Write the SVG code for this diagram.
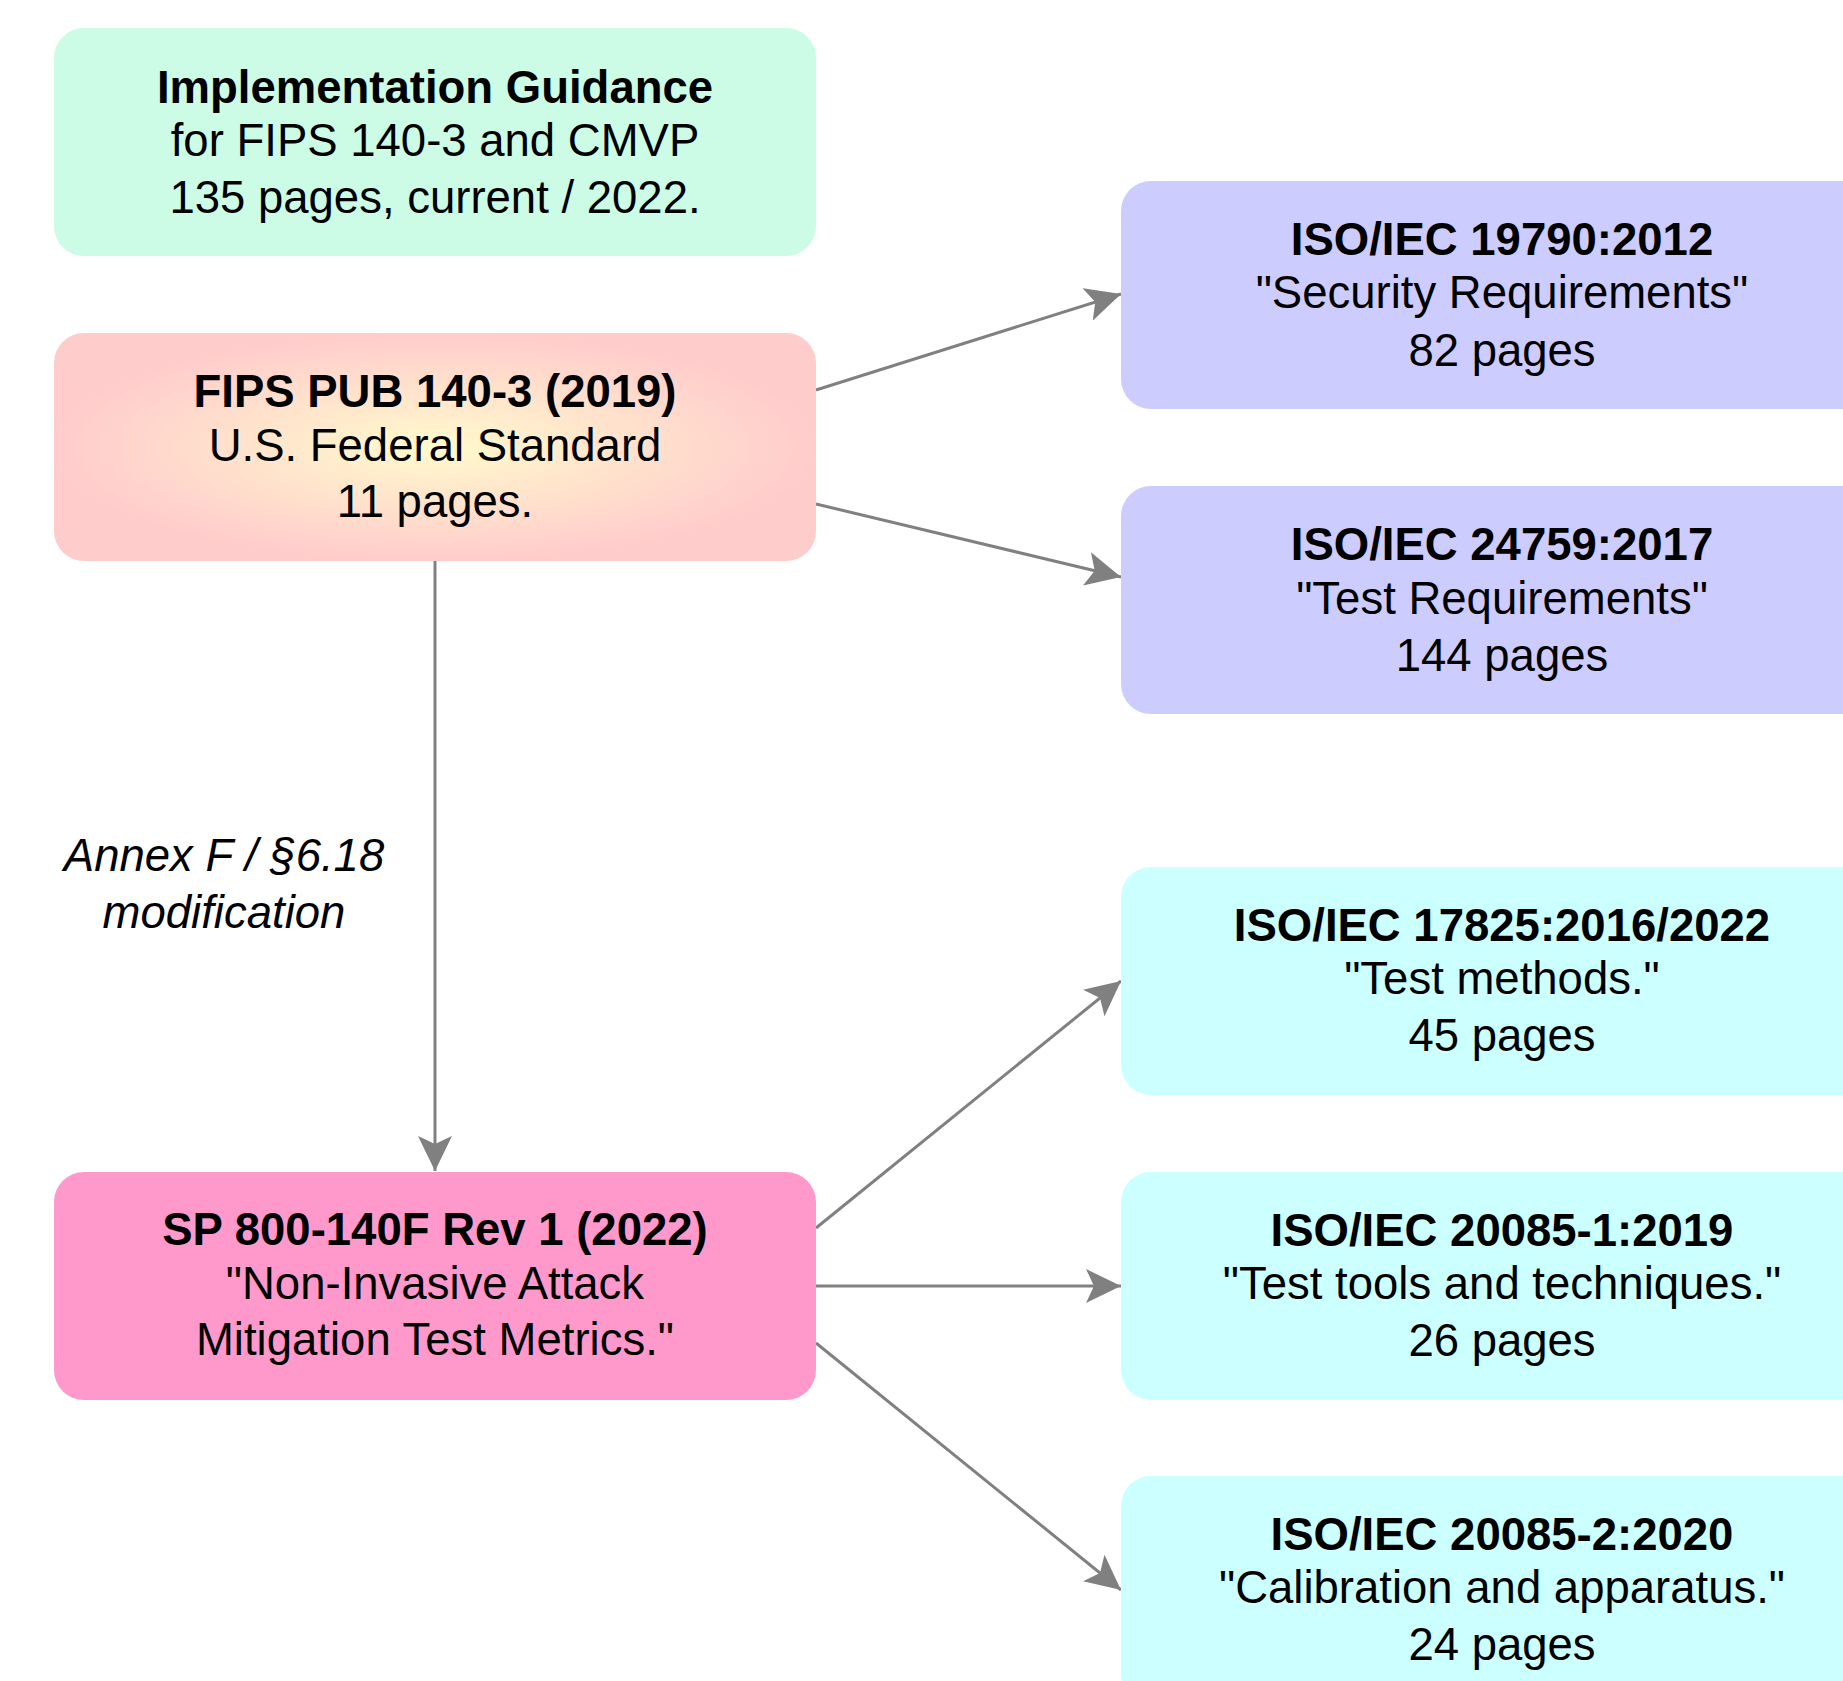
<svg xmlns="http://www.w3.org/2000/svg" width="1843" height="1681" viewBox="0 0 1843 1681">
<style>
  .box { stroke: none; }
  text { font-family: "Liberation Sans", Arial, sans-serif; font-size: 45.5px; fill: #000; text-anchor: middle; }
  .b { font-weight: bold; }
  .i { font-style: italic; }
  .edge { stroke: #808080; stroke-width: 3; fill: none; marker-end: url(#arrow); }
</style>
<defs>
  <marker id="arrow" markerUnits="userSpaceOnUse" markerWidth="40" markerHeight="40" refX="35" refY="17" orient="auto">
    <path d="M0,0 L35,17 L0,34 L8,17 Z" fill="#808080"/>
  </marker>
  <radialGradient id="fipsGrad" cx="0.5" cy="0.5" r="0.5">
    <stop offset="0" stop-color="#fffacc"/>
    <stop offset="1" stop-color="#ffcccc"/>
  </radialGradient>
</defs>
<rect width="1843" height="1681" fill="#ffffff"/>

<g id="connectors">
  <line class="edge" x1="816" y1="390" x2="1121" y2="294"/>
  <line class="edge" x1="816" y1="504" x2="1121" y2="577"/>
  <line class="edge" x1="435" y1="561" x2="435" y2="1171"/>
  <line class="edge" x1="816" y1="1228" x2="1121" y2="981"/>
  <line class="edge" x1="816" y1="1286" x2="1121" y2="1286"/>
  <line class="edge" x1="816" y1="1343" x2="1121" y2="1590"/>
  <text class="i" x="224" y="871">Annex F / §6.18</text>
  <text class="i" x="224" y="928">modification</text>
</g>

<g id="node-ig">
  <rect class="box" x="54" y="28" width="762" height="228" rx="30" fill="#ccfce6"/>
  <text class="b" x="435" y="103">Implementation Guidance</text>
  <text x="435" y="156">for FIPS 140-3 and CMVP</text>
  <text x="435" y="213">135 pages, current / 2022.</text>
</g>

<g id="node-fips">
  <rect class="box" x="54" y="333" width="762" height="228" rx="30" fill="url(#fipsGrad)"/>
  <text class="b" x="435" y="407">FIPS PUB 140-3 (2019)</text>
  <text x="435" y="461">U.S. Federal Standard</text>
  <text x="435" y="517">11 pages.</text>
</g>

<g id="node-sp">
  <rect class="box" x="54" y="1172" width="762" height="228" rx="30" fill="#ff99cc"/>
  <text class="b" x="435" y="1245">SP 800-140F Rev 1 (2022)</text>
  <text x="435" y="1299">"Non-Invasive Attack</text>
  <text x="435" y="1355">Mitigation Test Metrics."</text>
</g>

<g id="node-19790">
  <rect class="box" x="1121" y="181" width="762" height="228" rx="30" fill="#ccccff"/>
  <text class="b" x="1502" y="255">ISO/IEC 19790:2012</text>
  <text x="1502" y="308">"Security Requirements"</text>
  <text x="1502" y="366">82 pages</text>
</g>

<g id="node-24759">
  <rect class="box" x="1121" y="486" width="762" height="228" rx="30" fill="#ccccff"/>
  <text class="b" x="1502" y="560">ISO/IEC 24759:2017</text>
  <text x="1502" y="614">"Test Requirements"</text>
  <text x="1502" y="671">144 pages</text>
</g>

<g id="node-17825">
  <rect class="box" x="1121" y="867" width="762" height="228" rx="30" fill="#ccffff"/>
  <text class="b" x="1502" y="941">ISO/IEC 17825:2016/2022</text>
  <text x="1502" y="994">"Test methods."</text>
  <text x="1502" y="1051">45 pages</text>
</g>

<g id="node-20085-1">
  <rect class="box" x="1121" y="1172" width="762" height="228" rx="30" fill="#ccffff"/>
  <text class="b" x="1502" y="1246">ISO/IEC 20085-1:2019</text>
  <text x="1502" y="1299">"Test tools and techniques."</text>
  <text x="1502" y="1356">26 pages</text>
</g>

<g id="node-20085-2">
  <rect class="box" x="1121" y="1476" width="762" height="228" rx="30" fill="#ccffff"/>
  <text class="b" x="1502" y="1550">ISO/IEC 20085-2:2020</text>
  <text x="1502" y="1603">"Calibration and apparatus."</text>
  <text x="1502" y="1660">24 pages</text>
</g>
</svg>
